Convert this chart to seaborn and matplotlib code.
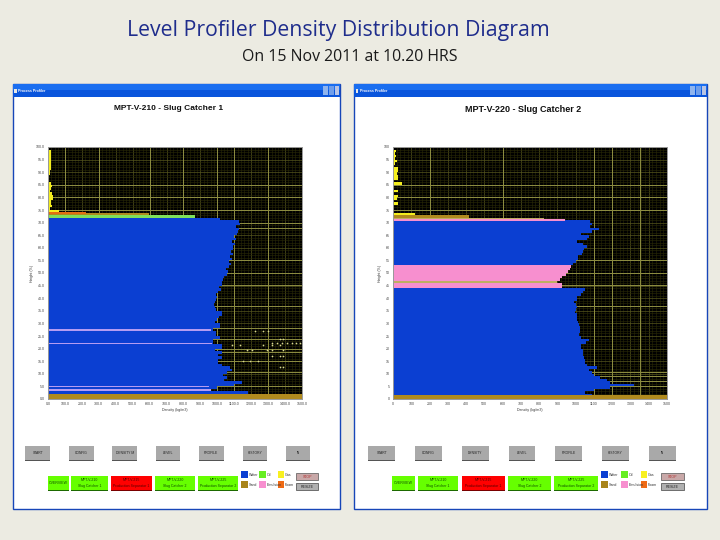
from matplotlib import pyplot as plt
from matplotlib.patches import Rectangle
import pandas as pd
import seaborn as sns

sns.set_style("white")
plt.rcParams["font.family"] = ["Liberation Sans", "DejaVu Sans"]

# Chart values
main_title = "Level Profiler Density Distribution Diagram"
sub_title = "On 15 Nov 2011 at 10.20 HRS"
titles = ["MPT-V-210 - Slug Catcher 1", "MPT-V-220 - Slug Catcher 2"]

levels = [0.5, 1.5, 2.5, 3.5, 4.5, 5.5, 6.5, 7.5, 8.5, 9.5,
          10.5, 11.5, 12.5, 13.5, 14.5, 15.5, 16.5, 17.5, 18.5, 19.5,
          20.5, 21.5, 22.5, 23.5, 24.5, 25.5, 26.5, 27.5, 28.5, 29.5,
          30.5, 31.5, 32.5, 33.5, 34.5, 35.5, 36.5, 37.5, 38.5, 39.5,
          40.5, 41.5, 42.5, 43.5, 44.5, 45.5, 46.5, 47.5, 48.5, 49.5,
          50.5, 51.5, 52.5, 53.5, 54.5, 55.5, 56.5, 57.5, 58.5, 59.5,
          60.5, 61.5, 62.5, 63.5, 64.5, 65.5, 66.5, 67.5, 68.5, 69.5,
          70.5, 71.5, 72.5, 73.5, 74.5, 75.5, 76.5, 77.5, 78.5, 79.5,
          80.5, 81.5, 82.5, 83.5, 84.5, 85.5, 86.5, 87.5, 88.5, 89.5,
          90.5, 91.5, 92.5, 93.5, 94.5, 95.5, 96.5, 97.5, 98.5, 99.5]

density_1 = [1500, 1500, 1183, 955, 1000, 1100, 1147, 1040, 1055, 1035,
             1055, 1085, 1075, 1025, 1005, 1005, 1025, 1005, 1025, 985,
             1025, 1025, 975, 975, 1015, 995, 995, 975, 1015, 1015,
             985, 1000, 1010, 1030, 1030, 990, 985, 980, 985, 990,
             1000, 990, 1005, 1020, 1010, 1030, 1030, 1035, 1040, 1060,
             1065, 1050, 1070, 1080, 1070, 1085, 1075, 1090, 1080, 1095,
             1090, 1105, 1085, 1110, 1100, 1115, 1120, 1130, 1110, 1135,
             1130, 1015, 868, 597, 67, 10, 25, 15, 20, 30,
             30, 25, 10, 20, 25, 20, 5, 5, 5, 10,
             10, 15, 20, 15, 20, 15, 20, 15, 15, 3]
phase_1 = ["Sand"] * 2 + ["Water"] * 70 + ["Oil", "Sand"] + ["Gas"] * 26

density_2 = [1500, 1090, 1050, 1100, 1190, 1317, 1190, 1170, 1135, 1100,
             1090, 1075, 1117, 1060, 1050, 1050, 1045, 1040, 1040, 1040,
             1030, 1030, 1055, 1075, 1030, 1020, 1025, 1025, 1025, 1020,
             1015, 1010, 1005, 1005, 995, 1000, 1010, 1000, 990, 1010,
             1010, 1030, 1040, 1050, 925, 925, 898, 915, 925, 945,
             960, 971, 975, 985, 1000, 1015, 1015, 1035, 1040, 1045,
             1060, 1040, 1005, 1060, 1075, 1030, 1090, 1126, 1080, 1090,
             1080, 828, 414, 122, 0, 0, 0, 25, 0, 20,
             25, 0, 25, 0, 0, 50, 0, 30, 28, 22,
             30, 30, 8, 10, 20, 12, 15, 10, 15, 5]
phase_2 = (["Sand"] + ["Water"] * 43 + ["Emulsion"] * 2 + ["Mix"] + ["Emulsion"] * 6
           + ["Water"] * 18 + ["Mix", "Sand"] + ["Gas"] * 27)

# thin layers that sit between the rows above
thin_level_1 = [3.7, 5.0, 22.0, 27.5, 73.7]
thin_density_1 = [963, 951, 967, 963, 224]
thin_phase_1 = ["Thin", "Thin", "Thin", "Thin", "Foam"]
thin_level_2 = [1.15, 70.9]
thin_density_2 = [1500, 943]
thin_phase_2 = ["Sand", "Emulsion"]

# stray readings on the left profile
speck_density = [1222, 1271, 1300, 1369, 1389, 1320, 1350, 1380, 1410, 1440, 1467, 1487,
                 1084, 1133, 1271, 1320, 1369, 1173, 1202, 1291, 1320, 1389,
                 1320, 1369, 1389, 1153, 1192, 1241, 1369, 1389]
speck_level = [26.9, 26.9, 26.9, 23.8, 23.8, 22.2, 22.2, 22.2, 22.2, 22.2, 22.2, 22.2,
               21.6, 21.6, 21.6, 21.6, 21.6, 19.3, 19.3, 19.3, 19.3, 19.3,
               17.2, 17.2, 17.2, 14.9, 14.9, 14.9, 12.7, 12.7]

y_ticks = [0, 5, 10, 15, 20, 25, 30, 35, 40, 45, 50, 55, 60, 65, 70, 75, 80, 85, 90, 95, 100]
x_ticks = [0, 100, 200, 300, 400, 500, 600, 700, 800, 900, 1000, 1100, 1200, 1300, 1400, 1500]

# the grid lines that show up brighter in the screenshot
bright_x_1 = [100, 300, 600, 800, 1000, 1100, 1300]
bright_y_1 = [5.3, 10.6, 15, 18.5, 20, 24, 28, 37, 45.4, 50, 55, 68, 70, 75, 80, 85]
bright_x_2 = [200, 600, 1100, 1200, 1350]
bright_y_2 = [5.3, 7, 9, 10.6, 37, 45.4, 50, 55, 75, 80, 85]

buttons_1 = ["START", "CONFIG", "DENSITY M", "LEVEL", "PROFILE", "HISTORY", "IN"]
buttons_2 = ["START", "CONFIG", "DENSITY", "LEVEL", "PROFILE", "HISTORY", "IN"]
status_labels = ["OVERVIEW", "MPT-V-210\nSlug Catcher 1", "MPT-V-215\nProduction Separator 1",
                 "MPT-V-220\nSlug Catcher 2", "MPT-V-225\nProduction Separator 2"]
status_colors = ["#66ff00", "#66ff00", "#ff0000", "#66ff00", "#66ff00"]
legend_labels = ["Water", "Oil", "Gas", "Sand", "Emulsion", "Foam"]

colors = {"Water": "#0b3fd2", "Oil": "#7fe05a", "Gas": "#f4ee1e", "Sand": "#b08a1e",
          "Emulsion": "#f78fcf", "Foam": "#e26f10", "Thin": "#b49cf2", "Mix": "#bfae62"}
legend_colors = ["#0b3fd2", "#66ee22", "#f8f020", "#a8841a", "#f78fcf", "#ee6a14"]

fig = plt.figure(figsize=(7.2, 5.4), dpi=100, facecolor="#ecebe2")

# everything around the plots is laid out in pixels on one full axes
bg = fig.add_axes([0, 0, 1, 1])
bg.set_xlim(0, 720)
bg.set_ylim(540, 0)
bg.axis("off")


def box(x0, y0, x1, y1, color, edge="none", lw=0):
    bg.add_patch(Rectangle((x0, y0), x1 - x0, y1 - y0, facecolor=color, edgecolor=edge, linewidth=lw))


def button(x0, y0, x1, y1, color, label, bottom, size=2.6, text_color="#222222"):
    box(x0, y0, x1, y1, color)
    box(x0, y1 - 1.2, x1, y1, bottom)
    bg.text((x0 + x1) / 2, (y0 + y1) / 2, label, ha="center", va="center", fontsize=size,
            color=text_color, linespacing=1.5)


def window(x0, x1, title, title_x, title_size):
    box(x0, 84, x1, 509, "white", edge="#1746b8", lw=1.0)
    box(x0, 84, x1, 90, "#1a6ef0")
    box(x0, 90, x1, 97, "#0a55dc")
    box(x0 + 1.5, 88.5, x0 + 4, 92.5, "#e8e8e8")
    bg.text(x0 + 5.5, 91, "Process Profiler", color="white", fontsize=2.6, fontweight="bold", va="center")
    box(x1 - 17, 86, x1 - 12, 95, "#8fb4ee")
    box(x1 - 11, 86, x1 - 6, 95, "#6f9eea")
    box(x1 - 5.5, 86, x1 - 1.5, 95, "#b8c4e4")
    bg.text(title_x, 109, title, ha="center", va="center", fontsize=title_size, fontweight="bold",
            color="#111111")


def profile(rect, density, phase, thin_level, thin_density, thin_phase, y_labels, x_labels, bright_x, bright_y):
    ax = fig.add_axes([rect[0] / 720, 1 - rect[3] / 540, (rect[1] - rect[0]) / 720, (rect[3] - rect[2]) / 540])
    ax.set_facecolor("black")
    df = pd.DataFrame({"level": levels, "density": density, "phase": phase})
    sns.barplot(data=df, x="density", y="level", hue="phase", palette=colors, orient="y", native_scale=True,
                dodge=False, width=1.0, saturation=1, errorbar=None, legend=False, linewidth=0,
                antialiased=False, ax=ax)
    for lv, d, p in zip(thin_level, thin_density, thin_phase):
        sns.barplot(x=[d], y=[lv], color=colors[p], orient="y", native_scale=True, width=0.7, saturation=1,
                    errorbar=None, linewidth=0, antialiased=False, ax=ax)
    ax.set_xlim(0, 1500)
    ax.set_ylim(0, 100)
    ax.set_xticks(x_ticks)
    ax.set_xticklabels(x_labels, fontsize=2.6, color="#444444")
    ax.set_yticks(y_ticks)
    ax.set_yticklabels(y_labels, fontsize=2.6, color="#444444")
    ax.set_xticks([t + s for t in x_ticks[:-1] for s in (20, 40, 60, 80)], minor=True)
    ax.set_yticks([t + s for t in y_ticks[:-1] for s in (1, 2, 3, 4)], minor=True)
    ax.tick_params(axis="both", which="major", length=1.0, width=0.4, pad=1, color="#666666")
    ax.tick_params(axis="both", which="minor", length=0)
    ax.grid(True, which="major", color="#56561e", linewidth=0.5)
    ax.grid(True, which="minor", color="#2a2a06", linewidth=0.4)
    ax.set_axisbelow(True)
    for v in bright_x:
        ax.axvline(v, color="#8e8e42", linewidth=0.7, zorder=0.6)
    for v in bright_y:
        ax.axhline(v, color="#8e8e42", linewidth=0.7, zorder=0.6)
    ax.set_xlabel("Density (kg/m3)", fontsize=2.6, labelpad=1.5, color="#333333")
    ax.set_ylabel("Height (%)", fontsize=2.6, labelpad=1.5, color="#333333")
    for s in ax.spines.values():
        s.set_color("#999999")
        s.set_linewidth(0.7)
    return ax


def controls(x_off, btn_x, status_x, legend_x, stop_x, labels):
    for (a, b), lab in zip(btn_x, labels):
        button(x_off + a / 3, 445.7, x_off + b / 3, 460.7, "#a9a9a9", lab, "#555555", size=2.4)
    for (a, b), lab, col in zip(status_x, status_labels, status_colors):
        button(x_off + a / 3, 475.7, x_off + b / 3, 490.7, col, lab,
               "#7a0000" if col == "#ff0000" else "#1d6a00", size=2.5,
               text_color="#550000" if col == "#ff0000" else "#0d4a00")
    for i, (lab, col) in enumerate(zip(legend_labels, legend_colors)):
        a, w = legend_x[i % 3]
        y0 = 471 if i < 3 else 481
        box(x_off + a / 3, y0, x_off + (a + w) / 3, y0 + 7.3, col)
        bg.text(x_off + (a + w) / 3 + 1, y0 + 3.6, lab, fontsize=2.6, va="center", color="#333333")
    box(x_off + stop_x[0] / 3, 473.3, x_off + stop_x[1] / 3, 480.3, "#c8a8a8", edge="#555555", lw=0.5)
    bg.text(x_off + sum(stop_x) / 6, 476.8, "STOP", fontsize=2.6, ha="center", va="center", color="#b03030")
    box(x_off + stop_x[0] / 3, 483.3, x_off + stop_x[1] / 3, 490.3, "#b0b0b0", edge="#444444", lw=0.5)
    bg.text(x_off + sum(stop_x) / 6, 486.8, "RESIZE", fontsize=2.6, ha="center", va="center", color="#222222")


bg.text(338, 30.5, main_title, ha="center", va="center", fontsize=15.3, family="Open Sans", color="#1f2d8c")
bg.text(350, 57, sub_title, ha="center", va="center", fontsize=11.4, family="Open Sans", color="#1a1a1a")

window(12.5, 340, titles[0], 169, 6.0)
window(354, 707, titles[1], 523, 6.5)

y_labels_1 = [f"{t}.0" for t in y_ticks]
x_labels_1 = [f"{t}.0" for t in x_ticks]
y_labels_2 = [str(t) for t in y_ticks]
x_labels_2 = [str(t) for t in x_ticks]

ax1 = profile((48, 302, 147, 399), density_1, phase_1, thin_level_1, thin_density_1, thin_phase_1,
              y_labels_1, x_labels_1, bright_x_1, bright_y_1)
sns.scatterplot(x=speck_density, y=speck_level, color="#d8d890", s=1.5, linewidth=0, ax=ax1, zorder=4)
ax1.set_xlim(0, 1500)
ax1.set_ylim(0, 100)

profile((393, 667, 147, 399), density_2, phase_2, thin_level_2, thin_density_2, thin_phase_2,
        y_labels_2, x_labels_2, bright_x_2, bright_y_2)

controls(10, [(46, 120), (178, 252), (307, 381), (438, 511), (567, 641), (698, 771), (827, 901)],
         [(113, 177), (184, 294), (304, 425), (436, 555), (565, 684)],
         [(693, 20), (748, 20), (804, 18)], (859, 925), buttons_1)
controls(350, [(55, 135), (195, 275), (336, 416), (477, 555), (616, 695), (757, 836), (897, 977)],
         [(127, 195), (205, 323), (336, 465), (475, 603), (613, 743)],
         [(753, 20), (813, 20), (873, 18)], (933, 1001), buttons_2)

fig.savefig("out.png", dpi=100, facecolor=fig.get_facecolor())
